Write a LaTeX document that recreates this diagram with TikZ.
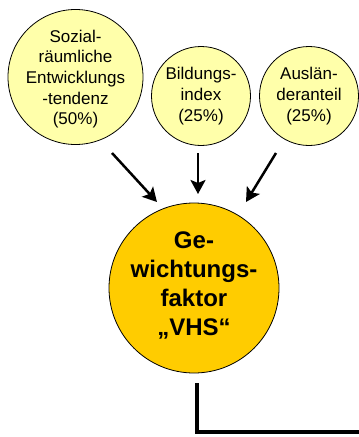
\documentclass[tikz,border=0pt]{standalone}
\usepackage{fontspec}
\setmainfont{Liberation Sans}
\usetikzlibrary{arrows.meta}
\definecolor{lightyel}{RGB}{255,255,170}
\definecolor{gold}{RGB}{255,204,0}
\begin{document}
\begin{tikzpicture}[x=1pt,y=-1pt,
  small/.style={circle,draw=black,line width=0.8pt,fill=lightyel,inner sep=0pt},
  smalltext/.style={inner sep=0pt,align=center,font=\fontsize{17}{20.7}\selectfont},
  big/.style={circle,draw=black,line width=0.8pt,fill=gold,inner sep=0pt},
  bigtext/.style={inner sep=0pt,align=center,font=\fontsize{24}{29}\selectfont\bfseries},
  arr/.style={line width=2.5pt,-{Stealth[length=14pt,width=15pt,inset=3pt]}},
  link/.style={line width=3.8pt}]
\useasboundingbox (0,0) rectangle (359,437);
\node[small,minimum size=135pt] (c1) at (75.5,77) {};
\node[small,minimum size=99pt] (c2) at (201,96) {};
\node[small,minimum size=99pt] (c3) at (309,96) {};
\node[big,minimum size=170pt] (g) at (194,288) {};
\node[smalltext,yshift=-2pt] (t1) at (c1) {Sozial-\\räumliche\\Entwicklungs\\-tendenz\\(50\%)};
\node[smalltext] (t2) at (c2) {Bildungs-\\index\\(25\%)};
\node[smalltext] (t3) at (c3) {Auslän-\\deranteil\\(25\%)};
\node[bigtext,yshift=3pt] (tg) at (g) {Ge-\\wichtungs-\\faktor\\„VHS“};
\coordinate (a1s) at (112,153);
\coordinate (a1e) at (157,202);
\coordinate (a2s) at (198,153);
\coordinate (a2e) at (198,194);
\coordinate (a3s) at (276,153);
\coordinate (a3e) at (246,202);
\coordinate (ls) at (197,383);
\coordinate (lc) at (197,432);
\coordinate (le) at (360,432);
\draw[arr] (a1s) -- (a1e);
\draw[arr] (a2s) -- (a2e);
\draw[arr] (a3s) -- (a3e);
\draw[link] (ls) -- (lc) -- (le);
\end{tikzpicture}
\end{document}
